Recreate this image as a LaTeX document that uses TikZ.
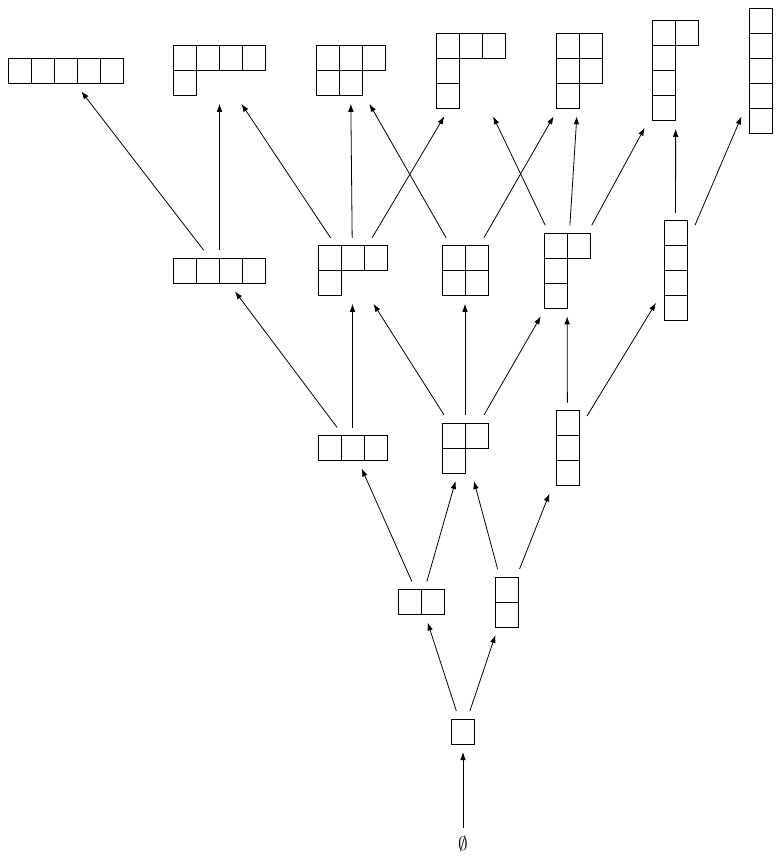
\documentclass[tikz,border=0pt]{standalone}
\usetikzlibrary{arrows.meta}
\tikzset{
  ybox/.style={draw=none, rectangle, inner sep=0pt, outer sep=6pt},
  cell/.style={draw=black, line width=0.6pt},
  edge/.style={draw=black, line width=0.6pt, -{Latex[length=6pt,width=4.2pt]}},
}
\newcommand\ydnode[6]{%
  \node[ybox, minimum width={#4*17.25pt}, minimum height={#5*18.75pt}] (#1) at (#2,#3) {};
  \foreach \r [count=\i from 0] in {#6} {%
    \foreach \c in {1,...,\r} {%
      \draw[cell] ({#2-#4*11.5+(\c-1)*23},{#3-#5*12.5+\i*25}) rectangle ++(23,25);
    }%
  }%
}
\begin{document}
\begin{tikzpicture}[x=0.75pt,y=-0.75pt]
\useasboundingbox (0,0) rectangle (781,860);
% level 5
\ydnode{p5}{65.5}{70.8}{5}{1}{5}
\ydnode{p41}{219.5}{70.8}{4}{2}{4,1}
\ydnode{p32}{350.5}{70.8}{3}{2}{3,2}
\ydnode{p311}{471.3}{70.8}{3}{3}{3,1,1}
\ydnode{p221}{579.7}{70.8}{2}{3}{2,2,1}
\ydnode{p2111}{675.7}{70.8}{2}{4}{2,1,1,1}
\ydnode{p11111}{761}{70.8}{1}{5}{1,1,1,1,1}
% level 4
\ydnode{p4}{219.5}{270.8}{4}{1}{4}
\ydnode{p31}{352.5}{270.8}{3}{2}{3,1}
\ydnode{p22}{465}{270.8}{2}{2}{2,2}
\ydnode{p211}{567}{270.8}{2}{3}{2,1,1}
\ydnode{p1111}{675.5}{270.8}{1}{4}{1,1,1,1}
% level 3
\ydnode{p3}{352.5}{448}{3}{1}{3}
\ydnode{p21}{465}{448}{2}{2}{2,1}
\ydnode{p111}{567.5}{448}{1}{3}{1,1,1}
% level 2
\ydnode{p2}{421}{602}{2}{1}{2}
\ydnode{p11}{506.5}{602}{1}{2}{1,1}
% level 1
\ydnode{p1}{463}{731.5}{1}{1}{1}
% empty
\node[inner sep=0pt, outer sep=6pt, font=\fontsize{15.5}{18}\selectfont] (p0) at (463,843.5) {$\emptyset$};
% edges
\draw[edge] (p0) -- (p1);
\draw[edge] (p1) -- (p2);
\draw[edge] (p1) -- (p11);
\draw[edge] (p2) -- (p3);
\draw[edge] (p2) -- (p21);
\draw[edge] (p11) -- (p21);
\draw[edge] (p11) -- (p111);
\draw[edge] (p3) -- (p4);
\draw[edge] (p3) -- (p31);
\draw[edge] (p21) -- (p31);
\draw[edge] (p21) -- (p22);
\draw[edge] (p21) -- (p211);
\draw[edge] (p111) -- (p211);
\draw[edge] (p111) -- (p1111);
\draw[edge] (p4) -- (p5);
\draw[edge] (p4) -- (p41);
\draw[edge] (p31) -- (p41);
\draw[edge] (p31) -- (p32);
\draw[edge] (p31) -- (p311);
\draw[edge] (p22) -- (p32);
\draw[edge] (p22) -- (p221);
\draw[edge] (p211) -- (p311);
\draw[edge] (p211) -- (p221);
\draw[edge] (p211) -- (p2111);
\draw[edge] (p1111) -- (p2111);
\draw[edge] (p1111) -- (p11111);
\end{tikzpicture}
\end{document}
